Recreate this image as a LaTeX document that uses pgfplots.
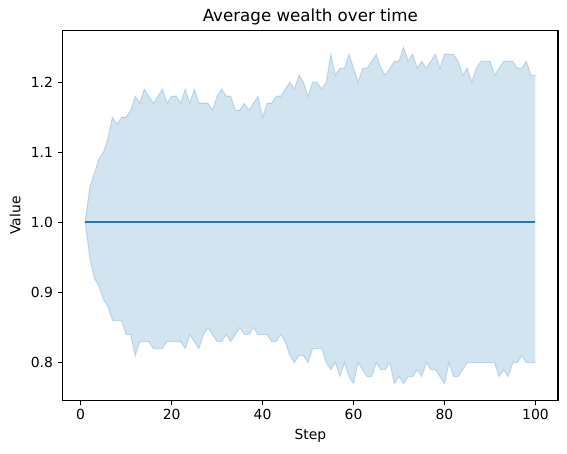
\documentclass[border=0pt]{standalone}
\usepackage{pgfplots}
\pgfplotsset{compat=1.18}
\usepackage{pgfplotstable}
\usepgfplotslibrary{fillbetween}
\usepackage{fontspec}
\setmainfont{DejaVu Sans}
\definecolor{tabblue}{HTML}{1F77B4}
\pgfplotstableread{
x up lo
1 1.00 1.00
2 1.05 0.95
3 1.07 0.92
4 1.09 0.91
5 1.10 0.89
6 1.12 0.88
7 1.15 0.86
8 1.14 0.86
9 1.15 0.86
10 1.15 0.84
11 1.16 0.84
12 1.18 0.81
13 1.17 0.83
14 1.19 0.83
15 1.18 0.83
16 1.17 0.82
17 1.18 0.82
18 1.19 0.82
19 1.17 0.83
20 1.18 0.83
21 1.18 0.83
22 1.17 0.83
23 1.19 0.82
24 1.17 0.84
25 1.19 0.83
26 1.17 0.82
27 1.17 0.84
28 1.17 0.85
29 1.16 0.84
30 1.18 0.83
31 1.19 0.83
32 1.18 0.84
33 1.18 0.83
34 1.16 0.84
35 1.16 0.85
36 1.17 0.84
37 1.16 0.84
38 1.17 0.85
39 1.18 0.84
40 1.15 0.84
41 1.17 0.84
42 1.17 0.83
43 1.18 0.83
44 1.18 0.84
45 1.19 0.83
46 1.20 0.81
47 1.19 0.80
48 1.21 0.81
49 1.20 0.81
50 1.18 0.80
51 1.20 0.82
52 1.20 0.82
53 1.19 0.82
54 1.20 0.80
55 1.24 0.79
56 1.21 0.80
57 1.22 0.78
58 1.22 0.80
59 1.24 0.78
60 1.22 0.77
61 1.20 0.80
62 1.22 0.79
63 1.22 0.78
64 1.23 0.78
65 1.24 0.80
66 1.22 0.79
67 1.21 0.79
68 1.22 0.80
69 1.23 0.77
70 1.23 0.78
71 1.25 0.77
72 1.23 0.78
73 1.24 0.78
74 1.22 0.79
75 1.23 0.78
76 1.22 0.80
77 1.23 0.79
78 1.24 0.79
79 1.22 0.78
80 1.24 0.77
81 1.24 0.80
82 1.24 0.78
83 1.23 0.78
84 1.21 0.79
85 1.22 0.80
86 1.20 0.80
87 1.22 0.80
88 1.23 0.80
89 1.23 0.80
90 1.23 0.80
91 1.21 0.80
92 1.22 0.78
93 1.23 0.79
94 1.23 0.78
95 1.23 0.80
96 1.22 0.80
97 1.22 0.81
98 1.23 0.80
99 1.21 0.80
100 1.21 0.80
}\band
\pgfplotstableread{
x y
1 1.0
100 1.0
}\meanline
\begin{document}
\begin{tikzpicture}
\begin{axis}[
  scale only axis,
  width=356.4pt, height=266.4pt,
  xmin=-3.95, xmax=104.95,
  ymin=0.746, ymax=1.274,
  xtick={0,20,40,60,80,100},
  ytick={0.8,0.9,1.0,1.1,1.2},
  yticklabel style={/pgf/number format/.cd, fixed, fixed zerofill, precision=1},
  /pgf/number format/assume math mode=true,
  tick pos=left,
  tick align=outside,
  major tick length=3.5pt,
  every tick/.style={black, line width=0.8pt},
  axis line style={line width=0.8pt},
  tick label style={font=\fontsize{10}{12}\selectfont},
  xticklabel style={yshift=1pt},
  label style={font=\fontsize{10}{12}\selectfont},
  title style={font=\fontsize{12}{14}\selectfont, yshift=-6pt},
  title={Average wealth over time},
  xlabel={Step}, ylabel={Value},
  xlabel style={yshift=0pt},
  ylabel style={yshift=0.5pt},
]
\addplot[name path=up, draw=tabblue, draw opacity=0.2, line width=0.8pt] table[x=x, y=up] {\band};
\addplot[name path=lo, draw=tabblue, draw opacity=0.2, line width=0.8pt] table[x=x, y=lo] {\band};
\addplot[fill=tabblue, fill opacity=0.2, draw=none] fill between[of=up and lo];
\addplot[tabblue, line width=1.5pt] table[x=x, y=y] {\meanline};
\coordinate (sw) at (rel axis cs:0,0);
\coordinate (ne) at (rel axis cs:1,1);
\end{axis}
\pgfresetboundingbox
\path ([xshift=-45.1pt,yshift=-38.2pt]sw) rectangle ([xshift=6.5pt,yshift=21.8pt]ne);
\end{tikzpicture}
\end{document}
